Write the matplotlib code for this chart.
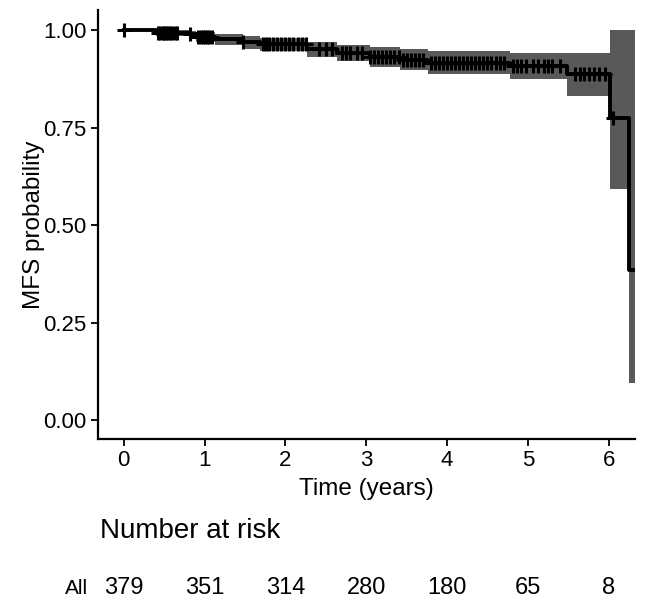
import numpy as np
import matplotlib
matplotlib.use('Agg')
import matplotlib.pyplot as plt

plt.rcParams['font.family'] = ['Liberation Sans', 'DejaVu Sans']

# DATA
# step times where the curve changes, survival after each step, and CI bounds
step_times = [0.0, 0.4, 0.82, 0.9, 1.13, 1.47, 1.69, 2.27, 2.64, 3.05, 3.42, 3.76, 4.78, 5.49, 6.02, 6.25]
surv =       [1.0, 0.993, 0.99, 0.982, 0.976, 0.968, 0.963, 0.951, 0.942, 0.931, 0.922, 0.915, 0.908, 0.887, 0.775, 0.385]
ci_low =     [1.0, 0.985, 0.98, 0.968, 0.962, 0.952, 0.946, 0.931, 0.92, 0.905, 0.898, 0.887, 0.874, 0.831, 0.593, 0.095]
ci_high =    [1.0, 1.0, 0.998, 0.994, 0.99, 0.984, 0.98, 0.968, 0.962, 0.956, 0.951, 0.945, 0.942, 0.942, 1.0, 1.0]
t_end = 6.32

censor_times = [0.0, 0.42, 0.45, 0.48, 0.5, 0.52, 0.55, 0.57, 0.6, 0.63, 0.66, 0.82,
                0.92, 0.95, 0.98, 1.0, 1.03, 1.06, 1.09, 1.47,
                1.72, 1.76, 1.8, 1.85, 1.9, 1.95, 2.0, 2.05, 2.1, 2.15, 2.2, 2.25,
                2.42, 2.5, 2.58, 2.7, 2.75, 2.8, 2.88, 2.95, 3.05, 3.1, 3.15, 3.2, 3.25,
                3.3, 3.35, 3.4, 3.45, 3.5, 3.55, 3.6, 3.65, 3.7, 3.8, 3.85, 3.9, 3.95,
                4.0, 4.05, 4.1, 4.15, 4.2, 4.25, 4.3, 4.35, 4.4, 4.45, 4.5, 4.55, 4.6, 4.65, 4.7,
                4.82, 4.86, 4.92, 4.98, 5.07, 5.13, 5.2, 5.25, 5.3, 5.4,
                5.58, 5.64, 5.7, 5.76, 5.82, 5.88, 5.95, 6.06]

risk_times = [0, 1, 2, 3, 4, 5, 6]
risk_counts = [379, 351, 314, 280, 180, 65, 8]

fig = plt.figure(figsize=(6.57, 6.05), dpi=100)
ax = fig.add_axes([0.149, 0.274, 0.818, 0.71])

x = step_times + [t_end]
ax.fill_between(x, ci_low + [ci_low[-1]], ci_high + [ci_high[-1]], step='post',
                color='#595959', linewidth=0)
ax.step(x, surv + [surv[-1]], where='post', color='black', linewidth=2.8)

# censor marks sit on the curve
idx = np.searchsorted(step_times, censor_times, side='right') - 1
cy = np.array(surv)[idx]
ax.plot(censor_times, cy, linestyle='none', marker='+', color='black',
        markersize=10, markeredgewidth=2.2)

ax.set_xlim(-0.32, 6.33)
ax.set_ylim(-0.048, 1.052)
ax.set_xticks(risk_times)
ax.set_yticks([0, 0.25, 0.5, 0.75, 1.0])
ax.set_yticklabels(['0.00', '0.25', '0.50', '0.75', '1.00'])
ax.tick_params(labelsize=16, length=5, width=1.3, colors='black', pad=3)
for s in ['top', 'right']:
    ax.spines[s].set_visible(False)
for s in ['left', 'bottom']:
    ax.spines[s].set_linewidth(1.6)
ax.set_xlabel('Time (years)', fontsize=17.5, labelpad=5)
ax.set_ylabel('MFS probability', fontsize=17.5)
ax.yaxis.set_label_coords(-0.098, 0.5)

# number at risk table
fig.text(0.152, 0.123, 'Number at risk', fontsize=20, va='center', ha='left')
for t, n in zip(risk_times, risk_counts):
    xf = ax.transData.transform((t, 0))[0] / fig.bbox.width
    fig.text(xf, 0.028, str(n), fontsize=17, ha='center', va='center')
fig.text(0.117, 0.028, 'All', fontsize=15, ha='center', va='center')

fig.savefig('out.png', dpi=100)
